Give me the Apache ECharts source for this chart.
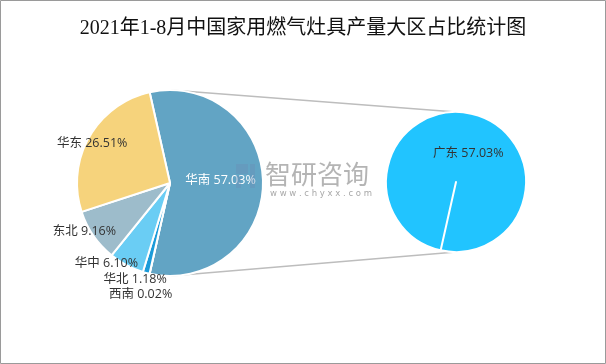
<!DOCTYPE html>
<html>
<head>
<meta charset="utf-8">
<script src="https://cdn.jsdelivr.net/npm/echarts@6/dist/echarts.min.js"></script>
<style>html,body{margin:0;padding:0;background:#fff}#c{width:606px;height:364px}</style>
</head>
<body>
<div id="c"></div>
<script>
// ---- data ----
const titleText = '2021年1-8月中国家用燃气灶具产量大区占比统计图';
const regionNames = ['华南', '西南', '华北', '华中', '东北', '华东'];
const regionValues = [57.03, 0.02, 1.18, 6.10, 9.16, 26.51];
const provinceNames = ['广东', '其他'];
const provinceValues = [57.03, 0];

// ---- layout / style ----
const W = 606, H = 364;
const c1 = [170, 183], r1 = 93;
const c2 = [456, 182], r2 = 70;
const regionColors = ['#62A4C4', '#0F6FA8', '#1B9BD9', '#6ACDF4', '#9DBCCB', '#F6D37C'];
const labelOffsets = [[0, 0], [-4, 21], [-6, 7], [-15, -2], [-4, -4], [8, 6]];
const labelFont = '"Open Sans", "Noto Sans CJK SC", sans-serif';

// first slice (华南) centred on the right-hand side
const total = regionValues.reduce((a, b) => a + b, 0);
const frac = regionValues[0] / total;
const startA = frac * 180;
const endA = startA - frac * 360 + 360;

const chart = echarts.init(document.getElementById('c'), null, {renderer: 'canvas'});
chart.setOption({
  animation: false,
  backgroundColor: '#fff',
  title: {
    text: titleText, left: 'center', top: 14,
    textStyle: {fontFamily: '"Liberation Serif", "Noto Sans CJK SC", serif', fontSize: 20, fontWeight: 'normal', color: '#111'}
  },
  graphic: [
    {type: 'rect', shape: {x: 0.5, y: 0.5, width: W - 1, height: H - 1}, style: {fill: 'none', stroke: '#9a9a9a', lineWidth: 1}, silent: true, z: 100},
    {type: 'line', shape: {x1: c1[0], y1: c1[1] - r1, x2: c2[0], y2: c2[1] - r2}, style: {stroke: '#bdbdbd', lineWidth: 1.5}, z: -1},
    {type: 'line', shape: {x1: c1[0], y1: c1[1] + r1, x2: c2[0], y2: c2[1] + r2}, style: {stroke: '#bdbdbd', lineWidth: 1.5}, z: -1},
    {type: 'text', left: 265, top: 161, style: {text: '智研咨询', fontSize: 26, fill: 'rgba(130,130,130,0.6)', fontFamily: '"Noto Sans CJK SC", sans-serif'}, z: 100},
    {type: 'text', left: 270, top: 189, style: {text: 'w w w . c h y x x . c o m', fontSize: 8.5, fill: 'rgba(130,130,130,0.7)', fontFamily: '"DejaVu Sans", sans-serif'}, z: 100},
    {type: 'rect', shape: {x: 236, y: 164, width: 12, height: 10}, style: {fill: 'rgba(110,140,180,0.35)'}, z: 100},
    {type: 'rect', shape: {x: 236, y: 176, width: 5, height: 12}, style: {fill: 'rgba(110,140,180,0.35)'}, z: 100},
    {type: 'rect', shape: {x: 250, y: 164, width: 5, height: 24}, style: {fill: 'rgba(110,140,180,0.35)'}, z: 100}
  ],
  series: [
    {
      type: 'pie',
      center: c1, radius: r1,
      startAngle: startA, clockwise: true,
      avoidLabelOverlap: false,
      itemStyle: {borderColor: '#fff', borderWidth: 2},
      label: {
        show: true, position: 'outside', formatter: p => p.name + ' ' + p.value.toFixed(2) + '%',
        fontSize: 12.5, color: '#333', fontFamily: labelFont
      },
      labelLine: {show: false, length: 0, length2: 0},
      labelLayout: function (p) {
        if (p.dataIndex === 0) return {};
        const o = labelOffsets[p.dataIndex];
        return {align: 'center', verticalAlign: 'middle', dx: o[0], dy: o[1]};
      },
      data: regionNames.map((n, i) => ({
        name: n, value: regionValues[i],
        itemStyle: {color: regionColors[i]},
        label: i === 0 ? {position: 'inside', color: '#fff', offset: [1, -3]} : {}
      }))
    },
    {
      type: 'pie',
      center: c2, radius: r2,
      startAngle: endA, clockwise: true,
      avoidLabelOverlap: false,
      itemStyle: {borderColor: '#fff', borderWidth: 2, color: '#21C4FF'},
      label: {
        show: true, position: 'inside', formatter: p => p.name + ' ' + p.value.toFixed(2) + '%',
        fontSize: 12.5, color: '#333', fontFamily: labelFont, offset: [4, 9]
      },
      labelLine: {show: false},
      data: provinceNames.map((n, i) => ({
        name: n, value: provinceValues[i],
        label: i === 0 ? {} : {show: false}
      }))
    }
  ]
});
</script>
</body>
</html>
